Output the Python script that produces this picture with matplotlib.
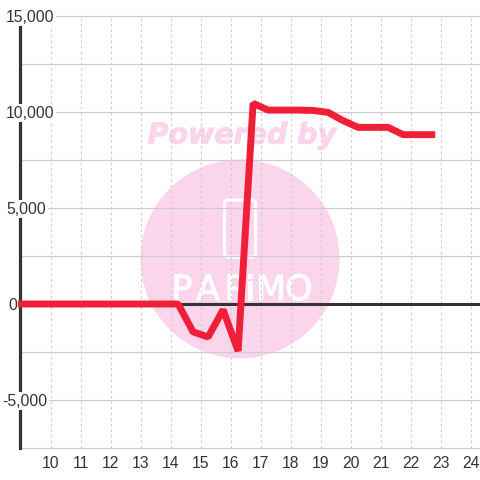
import matplotlib
matplotlib.use('Agg')
import matplotlib.pyplot as plt
import matplotlib.patheffects as pe
from matplotlib.patches import Ellipse, FancyBboxPatch

plt.rcParams['font.family'] = ['Liberation Sans', 'DejaVu Sans']

# Data
hours = [8.75, 9.25, 9.75, 10.25, 10.75, 11.25, 11.75, 12.25, 12.75, 13.25, 13.75, 14.25,
         14.75, 15.25, 15.75, 16.25, 16.75, 17.25, 17.75, 18.25, 18.75, 19.25, 19.75,
         20.25, 20.75, 21.25, 21.75, 22.25, 22.82]
values = [0, 0, 0, 0, 0, 0, 0, 0, 0, 0, 0, 0,
          -1450, -1720, -300, -2450, 10450, 10100, 10100, 10100, 10080, 9980, 9550,
          9200, 9200, 9200, 8820, 8820, 8820]
x_ticks = list(range(10, 25))
y_grid = [-7500, -5000, -2500, 0, 2500, 5000, 7500, 10000, 12500, 15000]
y_labels = {15000: '15,000', 10000: '10,000', 5000: '5,000', 0: '0', -5000: '-5,000'}
y_label_left = {15000: 6, 10000: 6, 5000: 6.5, 0: 8, -5000: 2.5}
logo_letters = ['P', 'A', 'P', 'i', 'M', 'O']
logo_centers = [182, 208, 235, 250, 271, 299]

DARK = '#333333'
GRID = '#cccccc'
PINK = '#fbd5ec'
RED = '#f01f38'

fig = plt.figure(figsize=(4.8, 4.8), dpi=100, facecolor='white')
ax = fig.add_axes([20 / 480, 32 / 480, 460 / 480, 432 / 480])
ax.set_xlim(8.98, 24.313)
ax.set_ylim(-7500, 15000)


def px(x, y):
    # reference pixel -> figure fraction
    return x / 480, 1 - y / 480


# Watermark, under the grid
ax.add_patch(Ellipse(px(240, 259), 199 / 480, 199 / 480, transform=fig.transFigure,
                     fc=PINK, ec='none', zorder=0.1))
ax.text(*px(242, 135.5), 'Powered by', transform=fig.transFigure, color=PINK,
        family='DejaVu Sans', weight='bold', style='italic', fontsize=20.5,
        ha='center', va='center', zorder=0.1,
        path_effects=[pe.withStroke(linewidth=0.7, foreground=PINK)])
ax.add_patch(FancyBboxPatch(px(224.5, 257), 31 / 480, 57 / 480, transform=fig.transFigure,
                            boxstyle='round,pad=0,rounding_size=0.008', fc='none',
                            ec='white', lw=2.2, zorder=0.2))
for letter, cx in zip(logo_letters, logo_centers):
    ax.text(*px(cx, 290), letter, transform=fig.transFigure, color='white',
            family='DejaVu Sans', fontsize=25, ha='center', va='center', zorder=0.2,
            path_effects=[pe.withStroke(linewidth=0.8, foreground='white')])

# Grid
for y in y_grid:
    ax.axhline(y, color=GRID, lw=0.85, zorder=0.5, clip_on=False)
for x in x_ticks:
    ax.axvline(x, color=GRID, lw=0.8, ls=(0, (2.2, 2.8)), zorder=0.5, clip_on=False)

for side in ['top', 'right', 'bottom']:
    ax.spines[side].set_visible(False)
ax.spines['left'].set_color(DARK)
ax.spines['left'].set_linewidth(2.3)
ax.axhline(0, color=DARK, lw=2.2, zorder=2, clip_on=False)

ax.plot(hours, values, color=RED, lw=5, solid_joinstyle='bevel', solid_capstyle='butt',
        zorder=3, clip_on=False)

ax.set_yticks([])
ax.set_xticks(x_ticks)
ax.set_xticklabels([str(t) for t in x_ticks], fontsize=11.3, color=DARK)
ax.tick_params(axis='x', length=0, pad=5.5)

# y labels sit inside the plot on a white box
for y, label in y_labels.items():
    ax.annotate(label, xy=(y_label_left[y] / 480, y), xycoords=(fig.transFigure, ax.transData),
                xytext=(0, -1), textcoords='offset points',
                fontsize=11.3, color=DARK, ha='left', va='center', zorder=4,
                annotation_clip=False,
                bbox=dict(boxstyle='square,pad=0.1', fc='white', ec='none'))

fig.savefig('out.png', dpi=100)
